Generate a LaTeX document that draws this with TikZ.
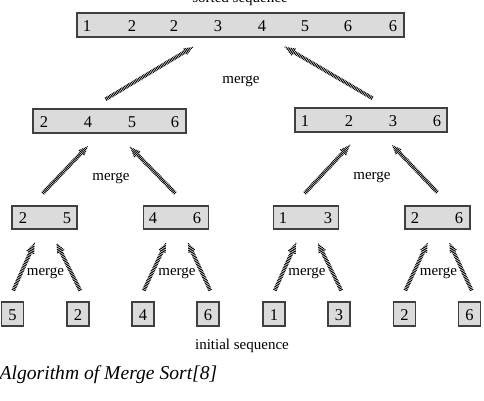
\documentclass[tikz,border=0pt]{standalone}
\usepackage{fontspec}
\setmainfont{Liberation Serif}
\usetikzlibrary{decorations.markings}
\tikzset{
  box/.style={draw=black!75, fill=black!14, line width=1.2pt, inner sep=0pt},
  digit/.style={font=\fontsize{16.5}{18}\selectfont, inner sep=0pt},
  lbl/.style={font=\fontsize{15}{17}\selectfont, inner sep=0pt},
  hatcharrow/.style={decorate, decoration={markings,
    mark=between positions 0 and 1 step 1.6pt with {
      \pgfmathsetmacro\hd{\pgfdecoratedpathlength-\pgfkeysvalueof{/pgf/decoration/mark info/distance from start}}
      \pgfmathsetmacro\hw{\hd<10 ? max(0.42*\hd,0.5) : 1.9}
      \draw[line width=0.9pt, black] (0,-\hw pt) -- (0,\hw pt);
    }}}
}
\begin{document}
\begin{tikzpicture}[x=1pt, y=-1pt]
\useasboundingbox (0,0) rectangle (484,400);
% title (cut at the top edge, as in the reference)
\node[lbl, anchor=base] (ttl) at (240,2.5) {sorted sequence};
% top box
\node[box, minimum width=327pt, minimum height=24pt] (top) at (240.5,25) {};
\foreach \x/\d [count=\i] in {87/1,132/2,174/2,218/3,262/4,305/5,348/6,393/6}
  \node[digit] (t\i) at (\x,26.5) {\d};
% level 2
\node[box, minimum width=153pt, minimum height=24pt] (la) at (109.5,121) {};
\node[box, minimum width=152pt, minimum height=24pt] (lb) at (371,120) {};
\foreach \x/\d [count=\i] in {44/2,88/4,132/5,175/6}
  \node[digit] (la\i) at (\x,122) {\d};
\foreach \x/\d [count=\i] in {305/1,349/2,393/3,437/6}
  \node[digit] (lb\i) at (\x,121) {\d};
% level 3
\foreach \cx/\ax/\bx/\da/\db [count=\i] in {44.5/23/67/2/5, 176/153/197/4/6, 306/283/328/1/3, 437.5/415/459/2/6}{
  \node[box, minimum width=65pt, minimum height=23pt] (m\i) at (\cx,217.5) {};
  \node[digit] (ma\i) at (\ax,218.5) {\da};
  \node[digit] (mb\i) at (\bx,218.5) {\db};
}
% leaves
\foreach \x/\d [count=\i] in {12.5/5, 78/2, 143/4, 208/6, 274/1, 339/3, 404.5/2, 469.5/6}{
  \node[box, minimum width=22pt, minimum height=24pt] (f\i) at (\x,314) {};
  \node[digit] (fd\i) at (\x,315) {\d};
}
% level-1 arrows
\coordinate (a1s) at (106,99);  \coordinate (a1e) at (193,47);
\coordinate (a2s) at (372,98);  \coordinate (a2e) at (285,47);
\path[hatcharrow] (a1s) -- (a1e);
\path[hatcharrow] (a2s) -- (a2e);
\node[lbl] (mg0) at (241,81) {merge};
% level-2 arrows
\coordinate (b1s) at (43,193);  \coordinate (b1e) at (88,146);
\coordinate (b2s) at (175,193); \coordinate (b2e) at (130,147);
\coordinate (b3s) at (305,193); \coordinate (b3e) at (350,145);
\coordinate (b4s) at (437,192); \coordinate (b4e) at (392,145);
\foreach \k in {1,2,3,4} \path[hatcharrow] (b\k s) -- (b\k e);
\node[lbl] (mg1) at (111,178) {merge};
\node[lbl] (mg2) at (372,177) {merge};
% level-3 arrows
\foreach \lx/\rx/\cx [count=\i] in {12.5/78/44.5, 143/208/176, 274/339/306, 404.5/469.5/437.5}{
  \coordinate (c\i l) at (\lx+1,290);
  \coordinate (c\i L) at (\cx-10,243);
  \coordinate (c\i r) at (\rx+2,290);
  \coordinate (c\i R) at (\cx+12,243);
  \path[hatcharrow] (c\i l) -- (c\i L);
  \path[hatcharrow] (c\i r) -- (c\i R);
  \node[lbl] (mm\i) at (\cx+1,273) {merge};
}
\node[lbl] (init) at (242,346) {initial sequence};
\node[font=\fontsize{19.6}{22}\selectfont\itshape, inner sep=0pt, anchor=west] (cap) at (-0.5,375) {Algorithm of Merge Sort[8]};
\end{tikzpicture}
\end{document}
